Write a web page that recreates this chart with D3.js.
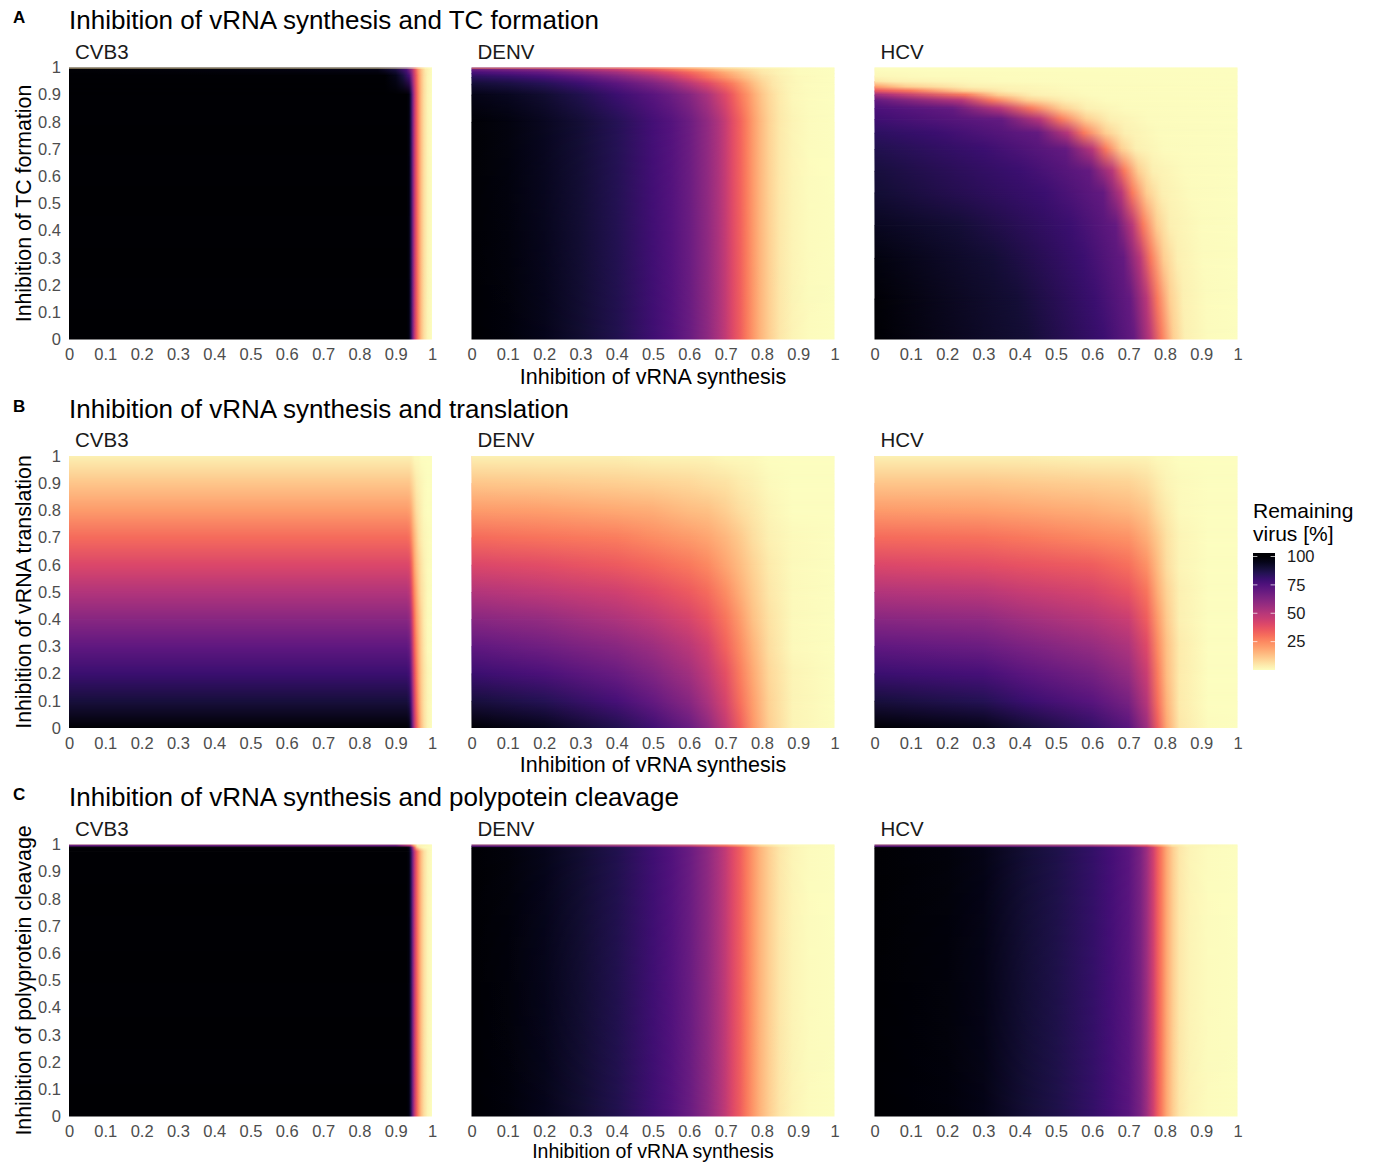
<!DOCTYPE html>
<html>
<head>
<meta charset="utf-8">
<script src="https://cdn.jsdelivr.net/npm/d3@7"></script>
<style>
  body { margin: 0; background: #fff; }
  svg text { font-family: "Liberation Sans", Arial, sans-serif; }
</style>
</head>
<body>
<svg id="fig" width="1374" height="1162"></svg>
<script>
// ---- labels ----
var viruses = ["CVB3", "DENV", "HCV"];
var rowLetters = ["A", "B", "C"];
var rowTitles = ["Inhibition of vRNA synthesis and TC formation",
                 "Inhibition of vRNA synthesis and translation",
                 "Inhibition of vRNA synthesis and polypotein cleavage"];
var yTitles = ["Inhibition of TC formation", "Inhibition of vRNA translation", "Inhibition of polyprotein cleavage"];
var xTitle = "Inhibition of vRNA synthesis";
var xTickValues = [0, 0.1, 0.2, 0.3, 0.4, 0.5, 0.6, 0.7, 0.8, 0.9, 1];
var yTickValues = [0, 0.1, 0.2, 0.3, 0.4, 0.5, 0.6, 0.7, 0.8, 0.9, 1];
var legendValues = [25, 50, 75, 100];

// ---- remaining virus [%] ----
// profiles with no second inhibitor (bottom row of every panel), [x, value]
var base_CVB3 = [[0,100],[0.93,100],[0.937,97],[0.942,85],[0.947,65],[0.952,47],[0.957,35],[0.963,24],[0.97,14],[0.978,7],[0.988,2],[1,0]];
var base_DENV = [[0,100],[0.1,98],[0.2,95],[0.3,91],[0.4,86],[0.5,79],[0.55,75],[0.6,69],[0.65,60],[0.68,53],[0.7,47],[0.72,40],[0.74,34],[0.757,28],[0.775,22],[0.795,16],[0.82,10],[0.85,5],[0.885,2],[0.93,0.5],[1,0]];
var base_HCV = [[0,100],[0.2,98],[0.3,96],[0.42,90],[0.5,87],[0.6,82],[0.65,78],[0.7,73],[0.732,65],[0.75,56],[0.768,44],[0.78,34],[0.79,28],[0.805,18],[0.823,10],[0.84,5],[0.87,2],[0.92,0.5],[1,0]];

// A: TC formation
var rowsY_A_CVB3 = [0, 0.9, 0.97, 0.993, 1];
var stops_A_CVB3 = [
  base_CVB3,
  base_CVB3,
  [[0,100],[0.87,100],[0.9,95],[0.92,88],[0.937,78],[0.944,62],[0.95,47],[0.956,35],[0.963,23],[0.97,14],[0.978,7],[0.988,2],[1,0]],
  [[0,99],[0.85,96],[0.9,88],[0.93,76],[0.945,55],[0.953,38],[0.962,22],[0.972,11],[0.982,4],[1,0]],
  [[0,6],[0.9,4],[0.96,1],[1,0]]
];

var rowsY_A_DENV = [0, 0.8, 0.9, 0.94, 0.965, 0.98, 0.992, 1];
var stops_A_DENV = [
  base_DENV,
  [[0,99],[0.1,97],[0.2,94],[0.3,90],[0.4,85],[0.5,78],[0.55,74],[0.6,68],[0.65,59],[0.68,52],[0.7,46],[0.72,39],[0.74,33],[0.757,27],[0.775,21],[0.795,15],[0.82,9],[0.85,4.5],[0.885,2],[0.93,0.5],[1,0]],
  [[0,96],[0.1,94],[0.2,91],[0.3,86],[0.4,80],[0.5,73],[0.55,68],[0.6,62],[0.65,53],[0.7,40],[0.72,34],[0.74,28],[0.76,23],[0.78,17],[0.8,12],[0.82,8],[0.85,4],[0.885,1.5],[0.93,0.5],[1,0]],
  [[0,90],[0.1,88],[0.2,85],[0.3,80],[0.4,73],[0.5,64],[0.55,58],[0.6,50],[0.65,41],[0.7,31],[0.72,27],[0.75,20],[0.78,13],[0.8,9],[0.83,5],[0.87,2],[0.92,0.5],[1,0]],
  [[0,84],[0.1,82],[0.2,78],[0.3,72],[0.4,64],[0.5,54],[0.55,47],[0.6,39],[0.65,30],[0.7,22],[0.75,14],[0.8,7],[0.85,3],[0.9,1],[1,0]],
  [[0,78],[0.1,75],[0.2,71],[0.3,64],[0.4,56],[0.5,46],[0.55,40],[0.6,33],[0.65,26],[0.7,18],[0.75,11],[0.8,5],[0.85,2],[0.9,0.5],[1,0]],
  [[0,70],[0.2,62],[0.4,47],[0.5,37],[0.6,24],[0.7,12],[0.8,4],[0.9,0.5],[1,0]],
  [[0,25],[0.3,20],[0.5,14],[0.6,9],[0.7,4],[0.8,1],[1,0]]
];

var rowsY_A_HCV = [0, 0.15, 0.3, 0.42, 0.54, 0.62, 0.7, 0.76, 0.81, 0.85, 0.88, 0.9, 0.915, 0.93, 0.95, 0.97, 1];
var stops_A_HCV = [
  [[0,100],[0.42,90],[0.63,80],[0.715,70],[0.758,50],[0.79,28],[0.823,10],[0.855,3],[0.92,0.5],[1,0]],
  [[0,99],[0.39,90],[0.607,80],[0.704,70],[0.749,50],[0.779,28],[0.814,10],[0.85,3],[0.915,0.5],[1,0]],
  [[0,97],[0.327,90],[0.575,80],[0.686,70],[0.731,50],[0.761,28],[0.797,10],[0.835,3],[0.905,0.5],[1,0]],
  [[0,94],[0.23,90],[0.54,80],[0.665,70],[0.71,50],[0.74,28],[0.778,10],[0.815,3],[0.9,0.5],[1,0]],
  [[0,90.5],[0.02,90],[0.467,80],[0.63,70],[0.68,50],[0.71,28],[0.75,10],[0.792,3],[0.872,0.5],[1,0]],
  [[0,89],[0.4,80],[0.592,70],[0.655,50],[0.688,28],[0.727,10],[0.767,3],[0.855,0.5],[1,0]],
  [[0,86],[0.3,80],[0.527,70],[0.6,50],[0.637,28],[0.68,10],[0.72,3],[0.8,0.5],[1,0]],
  [[0,83],[0.17,80],[0.45,70],[0.532,50],[0.577,28],[0.637,10],[0.69,3],[0.785,0.5],[1,0]],
  [[0,79],[0.35,70],[0.456,50],[0.513,28],[0.583,10],[0.65,3],[0.755,0.5],[1,0]],
  [[0,76],[0.214,70],[0.347,50],[0.432,28],[0.517,10],[0.585,3],[0.695,0.5],[1,0]],
  [[0,70],[0.24,50],[0.323,28],[0.42,10],[0.53,3],[0.64,0.5],[1,0]],
  [[0,56],[0.055,50],[0.25,28],[0.34,10],[0.437,3],[0.605,0.5],[1,0]],
  [[0,36],[0.1,28],[0.246,10],[0.367,3],[0.577,0.5],[1,0]],
  [[0,20],[0.086,10],[0.267,3],[0.55,0.5],[1,0]],
  [[0,5],[0.053,3],[0.35,0.5],[1,0]],
  [[0,1.5],[0.15,0.5],[1,0]],
  [[0,0],[1,0]]
];

// B: translation (rows at y = 0, 0.1 ... 1)
var rowsY_B = [0, 0.1, 0.2, 0.3, 0.4, 0.5, 0.6, 0.7, 0.8, 0.9, 1];
var xs_B_CVB3 = [0, 0.93, 0.937, 0.942, 0.947, 0.952, 0.957, 0.963, 0.97, 0.978, 0.988, 1];
var z_B_CVB3 = [
  [100,100,97,85,65,47,35,24,14,7,2,0],
  [89,89,86,76,58,42,31,21,12,6,2,0],
  [80,80,78,68,52,38,28,19,11,6,2,0],
  [71,71,69,60,46,33,25,17,10,5,1,0],
  [61,61,59,52,40,29,21,15,9,4,1,0],
  [51,51,49,43,33,24,18,12,7,4,1,0],
  [41,41,40,35,27,19,14,10,6,3,1,0],
  [31,31,30,26,20,15,11,7,4,2,1,0],
  [21,21,20,18,14,10,7,5,3,1,0,0],
  [12,12,12,10,8,6,4,3,2,1,0,0],
  [3,3,3,3,2,1,1,1,0,0,0,0]
];
var xs_B_DENV = [0, 0.2, 0.4, 0.5, 0.6, 0.65, 0.7, 0.74, 0.775, 0.82, 0.885, 1];
var z_B_DENV = [
  [100,95,86,79,69,60,47,34,22,10,2,0],
  [89,85,77,70,61,53,42,30,20,9,2,0],
  [80,76,69,63,55,48,38,27,18,8,2,0],
  [71,67,61,56,49,43,33,24,16,7,1,0],
  [61,58,52,48,42,37,29,21,13,6,1,0],
  [51,48,44,40,35,31,24,17,11,5,1,0],
  [41,39,35,32,28,25,19,14,9,4,1,0],
  [31,29,27,24,21,19,15,11,7,3,1,0],
  [21,20,18,17,14,13,10,7,5,2,0,0],
  [12,11,10,9,8,7,6,4,3,1,0,0],
  [3,3,3,2,2,2,1,1,1,0,0,0]
];
var xs_B_HCV = [0, 0.3, 0.42, 0.6, 0.7, 0.75, 0.78, 0.805, 0.84, 0.92, 1];
var z_B_HCV = [
  [100,96,90,82,73,56,34,18,5,0.5,0],
  [89,85,80,73,65,50,30,16,4,0,0],
  [80,77,72,66,58,45,27,14,4,0,0],
  [71,68,64,58,52,40,24,13,4,0,0],
  [61,59,55,50,45,34,21,11,3,0,0],
  [51,49,46,42,37,29,17,9,3,0,0],
  [41,39,37,34,30,23,14,7,2,0,0],
  [31,30,28,25,23,17,11,6,2,0,0],
  [21,20,19,17,15,12,7,4,1,0,0],
  [12,12,11,10,9,7,4,2,1,0,0],
  [3,3,3,2,2,2,1,1,0,0,0]
];

// C: polyprotein cleavage
var rowsY_C_CVB3 = [0, 0.975, 0.99, 0.996, 1];
var stops_C_CVB3 = [
  base_CVB3,
  base_CVB3,
  [[0,100],[0.93,100],[0.937,95],[0.943,75],[0.948,50],[0.953,28],[0.958,12],[0.965,4],[0.975,1],[1,0]],
  [[0,70],[0.9,68],[0.94,50],[0.95,20],[0.96,3],[1,0]],
  [[0,12],[0.94,8],[0.96,1],[1,0]]
];
var rowsY_C_DENV = [0, 0.988, 0.995, 1];
var stops_C_DENV = [
  base_DENV,
  base_DENV,
  [[0,72],[0.3,66],[0.5,57],[0.6,50],[0.7,33],[0.75,22],[0.8,9],[0.85,3],[0.9,1],[1,0]],
  [[0,14],[0.5,10],[0.7,5],[0.8,1],[1,0]]
];
var rowsY_C_HCV = [0, 0.988, 0.995, 1];
var stops_C_HCV = [
  base_HCV,
  base_HCV,
  [[0,72],[0.4,66],[0.6,60],[0.7,52],[0.75,40],[0.79,20],[0.82,7],[0.86,2],[1,0]],
  [[0,14],[0.6,10],[0.75,5],[0.82,1],[1,0]]
];

function zipRows(xs, z) {
  return z.map(function (row) { return row.map(function (v, i) { return [xs[i], v]; }); });
}

var panels = [
  {r: 0, c: 0, ys: rowsY_A_CVB3, st: stops_A_CVB3},
  {r: 0, c: 1, ys: rowsY_A_DENV, st: stops_A_DENV},
  {r: 0, c: 2, ys: rowsY_A_HCV,  st: stops_A_HCV},
  {r: 1, c: 0, ys: rowsY_B, st: zipRows(xs_B_CVB3, z_B_CVB3)},
  {r: 1, c: 1, ys: rowsY_B, st: zipRows(xs_B_DENV, z_B_DENV)},
  {r: 1, c: 2, ys: rowsY_B, st: zipRows(xs_B_HCV, z_B_HCV)},
  {r: 2, c: 0, ys: rowsY_C_CVB3, st: stops_C_CVB3},
  {r: 2, c: 1, ys: rowsY_C_DENV, st: stops_C_DENV},
  {r: 2, c: 2, ys: rowsY_C_HCV,  st: stops_C_HCV}
];

// ---- layout ----
var panelW = 363, panelH = 272;
var panelLeft = [69, 471.5, 874.5];
var rowTop = [67.5, 456, 844.5];
var rowStep = 388.5;

var fig = d3.select("#fig");
var defs = fig.append("defs");
var color = d3.scaleSequential(d3.interpolateMagma).domain([100, 0]);
var fmt = d3.format("~g");

// vertical fade used to blend one row into the next
var fade = defs.append("linearGradient").attr("id", "fadeGrad")
  .attr("x1", 0).attr("y1", 0).attr("x2", 0).attr("y2", 1);
fade.append("stop").attr("offset", 0).attr("stop-color", "#fff").attr("stop-opacity", 1);
fade.append("stop").attr("offset", 1).attr("stop-color", "#fff").attr("stop-opacity", 0);
defs.append("mask").attr("id", "fade").attr("maskContentUnits", "objectBoundingBox")
  .style("mask-type", "alpha")
  .append("rect").attr("width", 1).attr("height", 1).attr("fill", "url(#fadeGrad)");

panels.forEach(function (p, k) {
  var x = d3.scaleLinear().domain([0, 1]).range([0, panelW]);
  var y = d3.scaleLinear().domain([0, 1]).range([panelH, 0]);
  var g = fig.append("g")
    .attr("transform", "translate(" + panelLeft[p.c] + "," + rowTop[p.r] + ")");
  var id = "p" + k;

  // one horizontal gradient per data row
  p.st.forEach(function (row, i) {
    var grad = defs.append("linearGradient").attr("id", id + "_" + i)
      .attr("gradientUnits", "userSpaceOnUse")
      .attr("x1", x(0)).attr("x2", x(1)).attr("y1", 0).attr("y2", 0);
    grad.selectAll("stop").data(row).enter().append("stop")
      .attr("offset", function (d) { return (x(d[0]) - x(0)) / (x(1) - x(0)); })
      .attr("stop-color", function (d) { return color(d[1]); });
  });

  // bands between rows: lower row underneath, upper row faded in on top
  for (var i = 0; i < p.ys.length - 1; i++) {
    var yb = y(p.ys[i]), yt = y(p.ys[i + 1]);
    g.append("rect")
      .attr("x", x(0)).attr("width", x(1) - x(0))
      .attr("y", yt).attr("height", yb - yt + (i > 0 ? 0.6 : 0))
      .attr("fill", "url(#" + id + "_" + i + ")");
    g.append("rect")
      .attr("x", x(0)).attr("width", x(1) - x(0))
      .attr("y", yt).attr("height", yb - yt)
      .attr("fill", "url(#" + id + "_" + (i + 1) + ")")
      .attr("mask", "url(#fade)");
  }

  // x axis
  var xa = g.append("g").attr("transform", "translate(0," + panelH + ")")
    .call(d3.axisBottom(x).tickValues(xTickValues).tickFormat(fmt).tickSize(0).tickPadding(9));
  xa.select(".domain").remove();
  xa.selectAll("text").style("font-size", "16.5px").attr("fill", "#4d4d4d");

  // y axis on the first column only
  if (p.c === 0) {
    var ya = g.append("g")
      .call(d3.axisLeft(y).tickValues(yTickValues).tickFormat(fmt).tickSize(0).tickPadding(8));
    ya.select(".domain").remove();
    ya.selectAll("text").style("font-size", "16.5px").attr("fill", "#4d4d4d");
  }

  // facet label
  g.append("text").attr("x", 6).attr("y", -9)
    .style("font-size", "20.5px").attr("fill", "#1a1a1a")
    .text(viruses[p.c]);
});

// row headings, axis titles
rowTitles.forEach(function (t, r) {
  fig.append("text").attr("x", 13).attr("y", 23 + r * rowStep)
    .style("font-size", "17px").style("font-weight", "bold").text(rowLetters[r]);
  fig.append("text").attr("x", 69).attr("y", 29 + r * rowStep)
    .style("font-size", "26px").text(t);
  fig.append("text")
    .attr("transform", "translate(31," + (rowTop[r] + panelH / 2) + ") rotate(-90)")
    .attr("text-anchor", "middle").style("font-size", "21.3px").text(yTitles[r]);
  // the bottom row's title sits at the page edge, so it is set a little smaller
  var last = r === rowTitles.length - 1;
  fig.append("text")
    .attr("x", panelLeft[1] + panelW / 2).attr("y", last ? 1157.5 : rowTop[r] + panelH + 44)
    .attr("text-anchor", "middle").style("font-size", last ? "19.5px" : "21.5px").text(xTitle);
});

// legend
var lg = fig.append("g");
lg.append("text").attr("x", 1253).attr("y", 518).style("font-size", "21px").text("Remaining");
lg.append("text").attr("x", 1253).attr("y", 541).style("font-size", "21px").text("virus [%]");
var barTop = 553, barBottom = 670, barX = 1253, barW = 22;
var ly = d3.scaleLinear().domain([0, 100]).range([barBottom, 556.5]);
var lgGrad = defs.append("linearGradient").attr("id", "legendGrad")
  .attr("x1", 0).attr("y1", 0).attr("x2", 0).attr("y2", 1);
lgGrad.append("stop").attr("offset", 0).attr("stop-color", color(100));
lgGrad.selectAll("stop.v").data(d3.range(100, -1, -5)).enter().append("stop")
  .attr("class", "v")
  .attr("offset", function (v) { return (ly(v) - barTop) / (barBottom - barTop); })
  .attr("stop-color", function (v) { return color(v); });
lg.append("rect").attr("x", barX).attr("y", barTop).attr("width", barW).attr("height", barBottom - barTop)
  .attr("fill", "url(#legendGrad)");
legendValues.forEach(function (v) {
  lg.append("line").attr("x1", barX).attr("x2", barX + 4.4).attr("y1", ly(v)).attr("y2", ly(v))
    .attr("stroke", "#fff").attr("stroke-opacity", 0.7);
  lg.append("line").attr("x1", barX + barW - 4.4).attr("x2", barX + barW).attr("y1", ly(v)).attr("y2", ly(v))
    .attr("stroke", "#fff").attr("stroke-opacity", 0.7);
  lg.append("text").attr("x", 1287).attr("y", ly(v)).attr("dy", "0.35em")
    .style("font-size", "16.5px").attr("fill", "#1a1a1a").text(v);
});
</script>
</body>
</html>
